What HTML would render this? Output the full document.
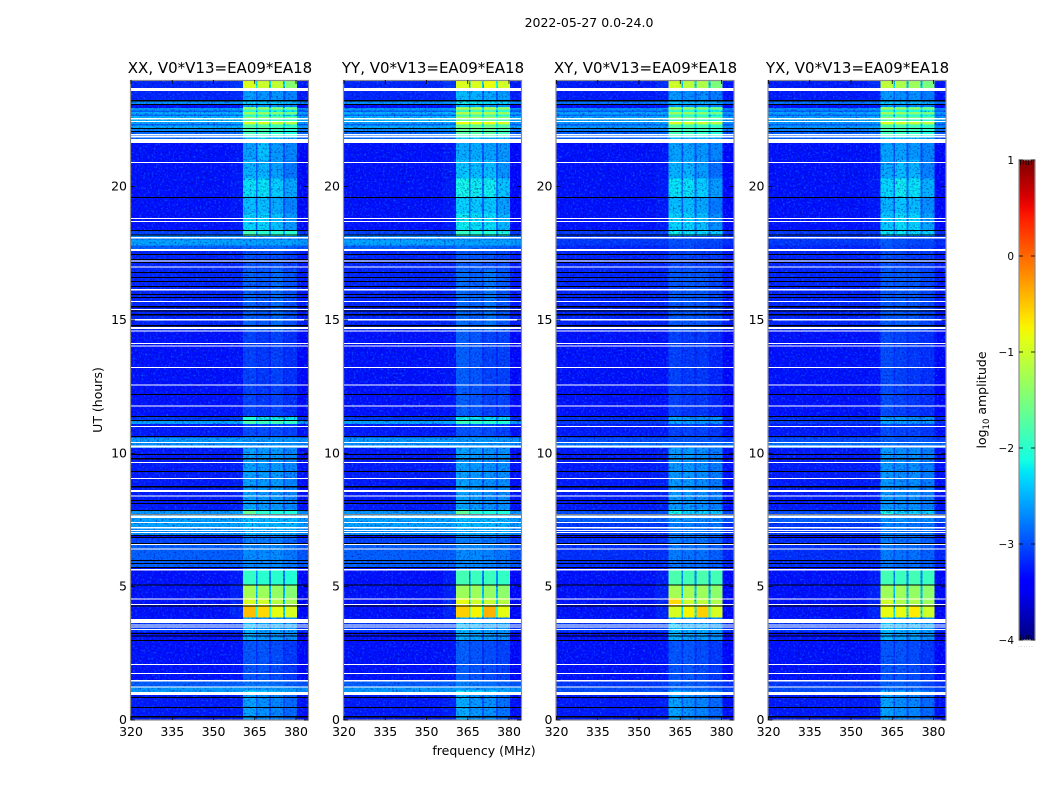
<!DOCTYPE html>
<html lang="en">
<head>
<meta charset="utf-8">
<title>2022-05-27 0.0-24.0</title>
<style>
html,body{margin:0;padding:0;background:#fff;width:1050px;height:800px;overflow:hidden}
svg{display:block}
text{font-family:"DejaVu Sans","Liberation Sans",sans-serif;fill:#000}
</style>
</head>
<body>
<svg id="chart" xmlns="http://www.w3.org/2000/svg" width="1050" height="800" viewBox="0 0 1050 800">
<defs>
<filter id="speckle" x="0" y="0" width="1" height="1" color-interpolation-filters="sRGB">
<feTurbulence type="fractalNoise" baseFrequency="0.48" numOctaves="2" seed="3"/>
<feColorMatrix values="0 0 0 0 0.05  0 0 0 0 0.5  0 0 0 0 1  3.4 0 0 0 -1.8"/>
</filter>
<filter id="speckle-dark" x="0" y="0" width="1" height="1" color-interpolation-filters="sRGB">
<feTurbulence type="fractalNoise" baseFrequency="0.52" numOctaves="2" seed="11"/>
<feColorMatrix values="0 0 0 0 0  0 0 0 0 0  0 0 0 0 0.62  3.4 0 0 0 -1.75"/>
</filter>
<linearGradient id="jet-gradient" x1="0" y1="1" x2="0" y2="0"></linearGradient>
</defs>
<text x="589" y="27" font-size="12.5" text-anchor="middle">2022-05-27 0.0-24.0</text>
<text transform="translate(102,400) rotate(-90)" font-size="12.5" text-anchor="middle">UT (hours)</text>
<text x="484" y="755" font-size="12.5" text-anchor="middle">frequency (MHz)</text>
<text transform="translate(986,400) rotate(-90)" font-size="12.5" text-anchor="middle">log<tspan font-size="8.5" dy="3">10</tspan><tspan dy="-3"> amplitude</tspan></text>
<g id="panels"></g>
<g id="colorbar"></g>
</svg>
<script>
// ---- categories ----
const panelNames = ["XX", "YY", "XY", "YX"];
const panelIsAuto = [true, true, false, false];
const baselineName = "V0*V13=EA09*EA18";

// ---- tick labels ----
const freqTicks = [320, 335, 350, 365, 380];
const hourTicks = [0, 5, 10, 15, 20];
const colorTicks = [1, 0, -1, -2, -3, -4];

// ---- frequency channels (MHz) ----
const freqEdges = [320, 345, 356, 360.7, 365.5, 366, 370.2, 370.9, 375.3, 376, 380.4, 384.4];
const columnBand = [0, 0, 0, 0, 0, 1, 1, 2, 2, 3, 3];
const columnWeight = [0, 0, 0.04, 1, 0.45, 1, 0.45, 1, 0.45, 1, 0];
const columnOffset = [0, 0, 0, 0, 0, 0, 0, 0, 0, 0, -0.05];

// ---- background log10 amplitude by UT (hours, descending) ----
const bgEdges = [24, 23.25, 23.06, 22.95, 22.85, 22.8, 22.7, 22.65, 22.43, 22.35, 22.3, 22.16, 22.05, 21.79, 18.38, 18.17, 18, 17.8, 17.6, 14.6, 11.4, 11.21, 11.1, 10.6, 10.43, 10.2, 7.84, 7.725, 7.38, 7.18, 6.94, 6.86, 6.6, 5.7, 3.78, 3.3, 1.44, 1.22, 1.05, 0];
const bgAuto = [-3.2, -2.65, -3.3, -2.6, -2.9, -2.5, -2.85, -2.45, -2.55, -2.9, -2.5, -2.7, -2.85, -3.3, -3.05, -2.7, -2.55, -2.9, -3.2, -3.3, -3.1, -2.55, -3.25, -2.6, -2.65, -3.25, -2.6, -2.55, -2.55, -2.65, -3.4, -3.05, -2.9, -3.3, -3.1, -3.3, -2.9, -2.6, -3.25];
const bgCross = [-3.25, -2.8, -3.3, -2.65, -2.9, -2.55, -2.85, -2.55, -2.6, -2.9, -2.6, -2.75, -2.9, -3.3, -3.1, -3.1, -3.1, -3.2, -3.2, -3.3, -3.15, -3.1, -3.25, -3, -2.8, -3.25, -3, -2.9, -3.1, -3.1, -3.4, -3.15, -3.15, -3.3, -3.1, -3.3, -3.1, -3, -3.25];

// ---- in-band log10 amplitude: per UT region, four sub-bands ----
const bandEdges = [24, 23.7, 22.98, 21.9, 21, 18.38, 18.15, 16.9, 14.6, 11.4, 11.1, 10.2, 7.9, 7.7, 6.9, 5.6, 5.08, 4.58, 4.3, 3.85, 3, 1.1, 0];
const bandXX = [[-0.95,-1.05,-1.1,-1.45],[-2.6,-2.65,-2.65,-2.75],[-2.1,-2.1,-2.2,-2.3],[-2.55,-2.4,-2.6,-2.7],[-2.35,-2.35,-2.45,-2.65],[-1.95,-2.1,-2.1,-2.1],[-3,-3,-3,-3.1],[-2.9,-2.95,-2.85,-3],[-3.05,-3.1,-3.05,-3.15],[-2.15,-2.25,-2.2,-2.3],[-3,-3,-3,-3.05],[-2.55,-2.6,-2.6,-2.7],[-1.95,-2.3,-2.4,-2.4],[-2.75,-2.8,-2.8,-2.8],[-2.85,-2.85,-2.85,-2.95],[-1.95,-2,-2,-2.05],[-1.25,-1.3,-1.35,-1.45],[-0.95,-1,-1.15,-1.25],[-0.45,-0.6,-0.85,-0.95],[-2.5,-2.6,-2.6,-2.65],[-2.95,-2.95,-3,-3.1],[-2.55,-2.65,-2.7,-2.85]];
const bandYY = [[-0.95,-0.95,-0.85,-1],[-2.45,-2.5,-2.55,-2.6],[-1.95,-1.95,-1.95,-2.1],[-2.5,-2.5,-2.55,-2.6],[-2.25,-2.3,-2.3,-2.5],[-2.05,-2.15,-2.15,-2.2],[-2.95,-2.95,-3,-3.05],[-2.85,-2.9,-2.8,-2.95],[-2.9,-2.95,-3.05,-3.05],[-2.25,-2.3,-2.35,-2.4],[-2.95,-2.95,-3,-3.05],[-2.55,-2.6,-2.65,-2.65],[-2,-2.3,-2.4,-2.4],[-2.75,-2.8,-2.8,-2.8],[-2.85,-2.85,-2.9,-2.95],[-1.85,-1.9,-1.9,-1.95],[-1.3,-1.3,-1.35,-1.4],[-0.85,-1,-1.05,-1.15],[-0.55,-0.75,-0.4,-0.85],[-2.5,-2.55,-2.6,-2.65],[-2.9,-2.95,-3,-3.05],[-2.5,-2.6,-2.65,-2.8]];
const bandXY = [[-1,-1.1,-1.2,-1.5],[-2.6,-2.65,-2.65,-2.75],[-2.05,-2.1,-2.15,-2.25],[-2.55,-2.55,-2.6,-2.7],[-2.35,-2.35,-2.45,-2.7],[-2.25,-2.3,-2.35,-2.4],[-3.05,-3.05,-3.1,-3.1],[-2.95,-2.95,-2.95,-3.05],[-3.05,-3.1,-3.1,-3.2],[-2.6,-2.65,-2.7,-2.7],[-3.05,-3.05,-3.05,-3.1],[-2.6,-2.6,-2.65,-2.75],[-2.25,-2.4,-2.4,-2.45],[-2.8,-2.8,-2.85,-2.85],[-2.8,-2.85,-2.85,-2.95],[-1.8,-1.85,-1.8,-1.85],[-1.25,-1.25,-1.3,-1.4],[-0.6,-1,-1.1,-1.2],[-0.95,-0.75,-0.55,-0.95],[-2.45,-2.55,-2.55,-2.65],[-2.95,-2.95,-3,-3.1],[-2.55,-2.65,-2.7,-2.85]];
const bandYX = [[-1.1,-1.2,-1.3,-1.5],[-2.6,-2.65,-2.65,-2.75],[-2.05,-2.1,-2.15,-2.25],[-2.55,-2.55,-2.6,-2.7],[-2.4,-2.3,-2.35,-2.6],[-2.3,-2.3,-2.35,-2.4],[-3,-3.05,-3.1,-3.1],[-2.95,-2.95,-2.95,-3.05],[-3,-3.05,-3.1,-3.15],[-2.6,-2.65,-2.7,-2.7],[-3,-3.05,-3.05,-3.1],[-2.6,-2.65,-2.65,-2.75],[-2.25,-2.4,-2.4,-2.45],[-2.8,-2.8,-2.85,-2.85],[-2.8,-2.85,-2.85,-2.95],[-1.85,-1.9,-1.85,-1.9],[-1.3,-1.3,-1.35,-1.4],[-1,-1.2,-1.2,-1.3],[-0.85,-0.85,-0.7,-1],[-2.45,-2.55,-2.55,-2.65],[-2.95,-2.95,-3,-3.1],[-2.55,-2.65,-2.7,-2.85]];
const bandByPanel = [bandXX, bandYY, bandXY, bandYX];

// ---- extra in-band strength by UT: stripes near 22-23, patches 18.4-21 ----
const stripeEdges = [22.98, 22.9, 22.8, 22.7, 22.6, 22.52, 22.43, 22.33, 22.2, 21, 20.3, 19.6, 19, 18.38];
const stripeDelta = [0.5, -0.1, 0.4, -0.1, 0.7, -0.1, 0.8, 0, 0, -0.12, 0.12, -0.06, 0.06];

// ---- flagged (white) and zero-amplitude (black) UT intervals, hours ----
const whiteStart = [23.7,22.575,22.46,21.975,21.9,21.79,20.93,18.83,18.72,18.11,17.66,17.23,17.01,16.16,15.71,15.41,15.04,14.74,14.61,14.14,14.04,13.24,12.59,11.79,11.03,10.43,10.3,9.68,9.08,8.63,8.42,7.71,7.65,7.43,7.24,7.13,7.05,6.6,6.43,5.66,4.56,4.35,3.78,3.59,3.51,3.41,2.1,1.76,1.5,1.26,1.05];
const whiteEnd = [23.59,22.52,22.43,21.92,21.85,21.64,20.88,18.78,18.68,18.06,17.59,17.19,16.97,16.11,15.68,15.375,14.99,14.66,14.58,14.1,14,13.2,12.55,11.75,10.99,10.39,10.21,9.64,9.04,8.55,8.38,7.68,7.575,7.38,7.18,7.09,7.01,6.56,6.39,5.6,4.51,4.31,3.64,3.55,3.48,3.38,2.06,1.725,1.44,1.225,0.94];
const blackStart = [23.25,23.1,22.2,22.09,19.61,18.375,18.21,17.475,17.29,17.175,16.8,16.61,16.46,16.275,15.975,15.86,15.525,15.36,15.225,14.81,12.225,11.4,11.25,10.65,9.975,9.825,9.34,8.775,8.25,8.14,7.875,7.725,6.94,6.86,6.64,6,5.89,5.74,5.08,4.29,3.26,3.17,3,0.86,0.49,0.15];
const blackEnd = [23.2,23.06,22.16,22.05,19.575,18.34,18.17,17.44,17.25,17.14,16.76,16.575,16.425,16.24,15.94,15.825,15.475,15.32,15.17,14.76,12.19,11.36,11.21,10.61,9.94,9.77,9.3,8.72,8.21,8.1,7.84,7.71,6.9,6.825,6.6,5.96,5.85,5.7,5.04,4.26,3.225,3.13,2.96,0.825,0.45,0.09];

// ---- layout ----
const NS = "http://www.w3.org/2000/svg";
const plotTop = 80, plotBottom = 720, plotWidth = 177;
const panelLefts = [131, 344, 556.5, 768.5];
const barLeft = 1019, barRight = 1035, barTop = 160, barBottom = 640;
const smoothAbove = -2.1;

const xScale = (f, left) => left + (f - 320) * 2.75;
const yScale = t => plotBottom - t * (plotBottom - plotTop) / 24;
const barScale = v => barBottom - (v + 4) * (barBottom - barTop) / 5;

function ramp(x, pts) {
  for (let i = 1; i < pts.length; i++) {
    if (x <= pts[i][0]) {
      const a = pts[i - 1], b = pts[i];
      return a[1] + (b[1] - a[1]) * (x - a[0]) / (b[0] - a[0]);
    }
  }
  return pts[pts.length - 1][1];
}
function jet(v) {
  const x = Math.max(0, Math.min(1, (v + 4) / 5));
  const r = ramp(x, [[0,0],[0.35,0],[0.66,1],[0.89,1],[1,0.5]]);
  const g = ramp(x, [[0,0],[0.125,0],[0.375,1],[0.64,1],[0.91,0],[1,0]]);
  const b = ramp(x, [[0,0.5],[0.11,1],[0.34,1],[0.65,0],[1,0]]);
  return "rgb(" + Math.round(r * 255) + "," + Math.round(g * 255) + "," + Math.round(b * 255) + ")";
}
function mk(parent, tag, attrs, txt) {
  const el = document.createElementNS(NS, tag);
  for (const k in attrs) el.setAttribute(k, attrs[k]);
  if (txt !== undefined) el.textContent = txt;
  parent.appendChild(el);
  return el;
}
function levelAt(edges, values, t) {
  for (let i = 0; i < values.length; i++) {
    if (t <= edges[i] && t > edges[i + 1]) return values[i];
  }
  return null;
}

const panelsGroup = document.getElementById("panels");
const allEdges = Array.from(new Set(bgEdges.concat(bandEdges, stripeEdges))).sort((a, b) => b - a);

panelNames.forEach((name, p) => {
  const left = panelLefts[p];
  const lname = name.toLowerCase();
  const g = mk(panelsGroup, "g", {});
  
  

  const title = mk(g, "text", {x: left + plotWidth / 2 + 0.5, y: 73, "font-size": 15, "text-anchor": "middle"}, name + ", " + baselineName);
  
  

  const bgLevels = panelIsAuto[p] ? bgAuto : bgCross;
  const bands = bandByPanel[p];
  const cells = mk(g, "g", {"shape-rendering": "crispEdges"});
  
  

  const speck = mk(g, "rect", {x: left, y: plotTop, width: plotWidth, height: plotBottom - plotTop, filter: "url(#speckle)", opacity: 0.6});
  
  

  const speckDark = mk(g, "rect", {x: left, y: plotTop, width: plotWidth, height: plotBottom - plotTop, filter: "url(#speckle-dark)", opacity: 0.55});
  
  

  const brightCells = mk(g, "g", {"shape-rendering": "crispEdges"});
  
  

  for (let r = 0; r < allEdges.length - 1; r++) {
    const t0 = allEdges[r], t1 = allEdges[r + 1], mid = (t0 + t1) / 2;
    const bg = levelAt(bgEdges, bgLevels, mid);
    const stripe = levelAt(stripeEdges, stripeDelta, mid) || 0;
    const regionIdx = bandEdges.findIndex((e, i) => i < bandEdges.length - 1 && mid <= e && mid > bandEdges[i + 1]);
    for (let c = 0; c < columnWeight.length; c++) {
      const base = bg + columnOffset[c];
      const band = bands[regionIdx][columnBand[c]] + Math.max(0, bg + 3.25) * 0.5 + stripe;
      const v = base + columnWeight[c] * Math.max(0, band - base);
      const x0 = xScale(freqEdges[c], left), x1 = xScale(freqEdges[c + 1], left);
      const cell = mk(v > smoothAbove ? brightCells : cells, "rect", {x: x0, y: yScale(t0), width: x1 - x0, height: yScale(t1) - yScale(t0), fill: jet(v)});
      
      
    }
  }

  const rows = mk(g, "g", {"shape-rendering": "crispEdges"});
  
  
  blackStart.forEach((s, i) => {
    const row = mk(rows, "rect", {x: left, y: yScale(s), width: plotWidth, height: Math.max(1, yScale(blackEnd[i]) - yScale(s)), fill: "#000"});
    
    
  });
  whiteStart.forEach((s, i) => {
    const row = mk(rows, "rect", {x: left, y: yScale(s), width: plotWidth, height: Math.max(1, yScale(whiteEnd[i]) - yScale(s)), fill: "#fff"});
    
    
  });

  const frame = mk(g, "rect", {x: left - 0.5, y: plotTop + 0.5, width: plotWidth + 1, height: plotBottom - plotTop - 0.5, fill: "none", stroke: "#8c8c8c", "stroke-width": 1.2});
  
  

  freqTicks.forEach(f => {
    const x = xScale(f, left);
    const tb = mk(g, "line", {x1: x, x2: x, y1: plotBottom, y2: plotBottom - 4, stroke: "#000", "stroke-width": 0.8});
    
    
    const tt = mk(g, "line", {x1: x, x2: x, y1: plotTop, y2: plotTop + 4, stroke: "#000", "stroke-width": 0.8});
    
    
    const lab = mk(g, "text", {x: x, y: 736, "font-size": 12.5, "text-anchor": "middle"}, String(f));
    
    
  });
  hourTicks.forEach(t => {
    const y = yScale(t);
    const tl = mk(g, "line", {x1: left, x2: left + 4, y1: y, y2: y, stroke: "#000", "stroke-width": 0.8});
    
    
    const tr = mk(g, "line", {x1: left + plotWidth, x2: left + plotWidth - 4, y1: y, y2: y, stroke: "#000", "stroke-width": 0.8});
    
    
    const lab = mk(g, "text", {x: left - 4, y: y + 4, "font-size": 12.5, "text-anchor": "end"}, String(t));
    
    
  });
});

// ---- colorbar ----
const grad = document.getElementById("jet-gradient");
for (let i = 0; i <= 40; i++) {
  mk(grad, "stop", {offset: (i / 40), "stop-color": jet(-4 + 5 * i / 40)});
}
const barGroup = document.getElementById("colorbar");
const barRect = mk(barGroup, "rect", {x: barLeft, y: barTop, width: barRight - barLeft, height: barBottom - barTop, fill: "url(#jet-gradient)", stroke: "#8c8c8c", "stroke-width": 1.2});



colorTicks.forEach(v => {
  const y = barScale(v);
  const lab = mk(barGroup, "text", {x: 1014, y: y + 4, "font-size": 10.5, "text-anchor": "end"}, v < 0 ? "\u2212" + Math.abs(v) : String(v));
  
  
  const a = mk(barGroup, "line", {x1: barLeft, x2: barLeft + 4, y1: y, y2: y, stroke: "#000", "stroke-width": 0.8});
  
  
  const b = mk(barGroup, "line", {x1: barRight - 4, x2: barRight, y1: y, y2: y, stroke: "#000", "stroke-width": 0.8});
  
  
});
for (let i = 0; i < 5; i++) {
  const x = barLeft + 2.7 * (i + 0.6);
  const top = mk(barGroup, "line", {x1: x, x2: x, y1: barTop, y2: barTop + 5, stroke: "#000", "stroke-width": 0.7});
  
  
  const bot = mk(barGroup, "line", {x1: x, x2: x, y1: barBottom, y2: barBottom - 5, stroke: "#000", "stroke-width": 0.7});
  
  
}
const dots = mk(barGroup, "text", {x: 1026, y: 647, "font-size": 5, "text-anchor": "middle", style: "fill:#888;letter-spacing:1px"}, "......");


</script>
</body>
</html>
